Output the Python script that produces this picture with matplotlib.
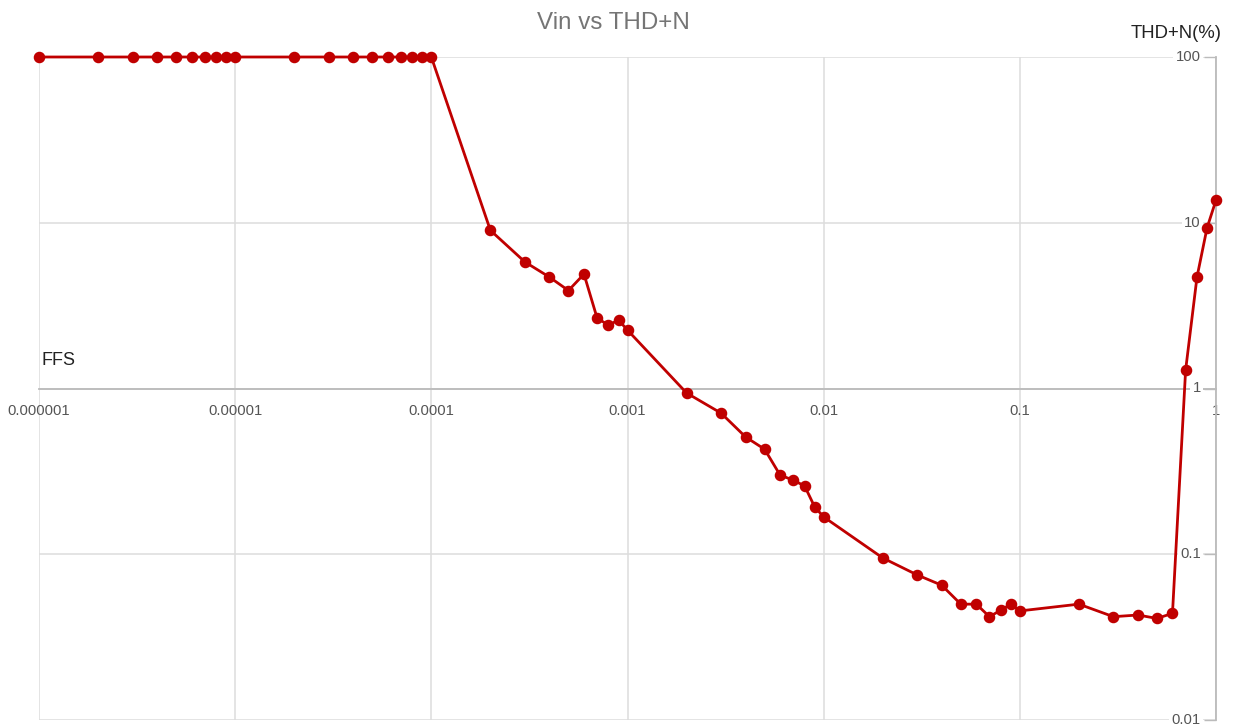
import matplotlib.pyplot as plt

plt.rcParams['font.family'] = ['Liberation Sans', 'DejaVu Sans']

# input level (FFS) and measured THD+N (%)
vin = [0.000001, 0.000002, 0.000003, 0.000004, 0.000005, 0.000006, 0.000007,
       0.000008, 0.000009, 0.00001, 0.00002, 0.00003, 0.00004, 0.00005,
       0.00006, 0.00007, 0.00008, 0.00009, 0.0001, 0.0002, 0.0003, 0.0004,
       0.0005, 0.0006, 0.0007, 0.0008, 0.0009, 0.001, 0.002, 0.003, 0.004,
       0.005, 0.006, 0.007, 0.008, 0.009, 0.01, 0.02, 0.03, 0.04, 0.05, 0.06,
       0.07, 0.08, 0.09, 0.1, 0.2, 0.3, 0.4, 0.5, 0.6, 0.7, 0.8, 0.9, 1.0]
thd = [100, 100, 100, 100, 100, 100, 100, 100, 100, 100, 100, 100, 100, 100,
       100, 100, 100, 100, 100, 9.0, 5.8, 4.7, 3.9, 4.9, 2.66, 2.41, 2.59,
       2.25, 0.94, 0.71, 0.51, 0.43, 0.30, 0.28, 0.258, 0.193, 0.168, 0.095,
       0.075, 0.065, 0.050, 0.050, 0.042, 0.046, 0.050, 0.0455, 0.050, 0.042,
       0.043, 0.041, 0.044, 1.29, 4.7, 9.3, 13.7]

x_ticks = [0.000001, 0.00001, 0.0001, 0.001, 0.01, 0.1, 1]
x_labels = ['0.000001', '0.00001', '0.0001', '0.001', '0.01', '0.1', '1']
y_ticks = [0.01, 0.1, 1, 10, 100]
y_labels = ['0.01', '0.1', '1', '10', '100']

fig = plt.figure(figsize=(12.34, 7.28), dpi=100)
ax = fig.add_axes([39 / 1234, 1 - 720 / 728, 1177 / 1234, 663 / 728])
ax.set_xscale('log')
ax.set_yscale('log')
ax.set_xlim(1e-6, 1)
ax.set_ylim(0.01, 100)

ax.plot(vin, thd, color='#c00000', lw=2, marker='o', ms=7.3,
        clip_on=False, zorder=5)

# grid on every decade
ax.set_xticks(x_ticks)
ax.set_xticklabels(x_labels)
ax.set_yticks(y_ticks)
ax.set_yticklabels([])
ax.minorticks_off()
ax.grid(True, color='#dddddd', lw=1.1)
ax.set_axisbelow(True)

# x axis crosses at THD+N = 1
for s in ['left', 'top']:
    ax.spines[s].set_visible(False)
ax.spines['bottom'].set_position(('data', 1))
ax.spines['bottom'].set_color('#bbbbbb')
ax.spines['bottom'].set_linewidth(1.3)
ax.spines['right'].set_color('#bbbbbb')
ax.spines['right'].set_linewidth(1.3)
ax.tick_params(axis='x', length=0, pad=11, labelsize=10.7, labelcolor='#555555')
ax.yaxis.tick_right()
ax.tick_params(axis='y', direction='in', length=9, width=1, color='#bbbbbb')

# y labels sit inside the plot, left of the right axis
for v, lab in zip(y_ticks, y_labels):
    ax.annotate(lab, (1, v), xytext=(-11, 0), textcoords='offset points',
                ha='right', va='center', fontsize=10.7, color='#555555',
                bbox=dict(boxstyle='square,pad=0.15', fc='white', ec='none'),
                zorder=3)

fig.text(613 / 1234, 1 - 23 / 728, 'Vin vs THD+N', ha='center', va='center',
         fontsize=17.4, color='#757575')
fig.text(1222 / 1234, 1 - 33 / 728, 'THD+N(%)', ha='right', va='center',
         fontsize=13.3, color='#222222')
ax.annotate('FFS', (1e-6, 1), xytext=(2, 14), textcoords='offset points',
            ha='left', va='bottom', fontsize=13, color='#222222')

fig.savefig('out.png', dpi=100)
